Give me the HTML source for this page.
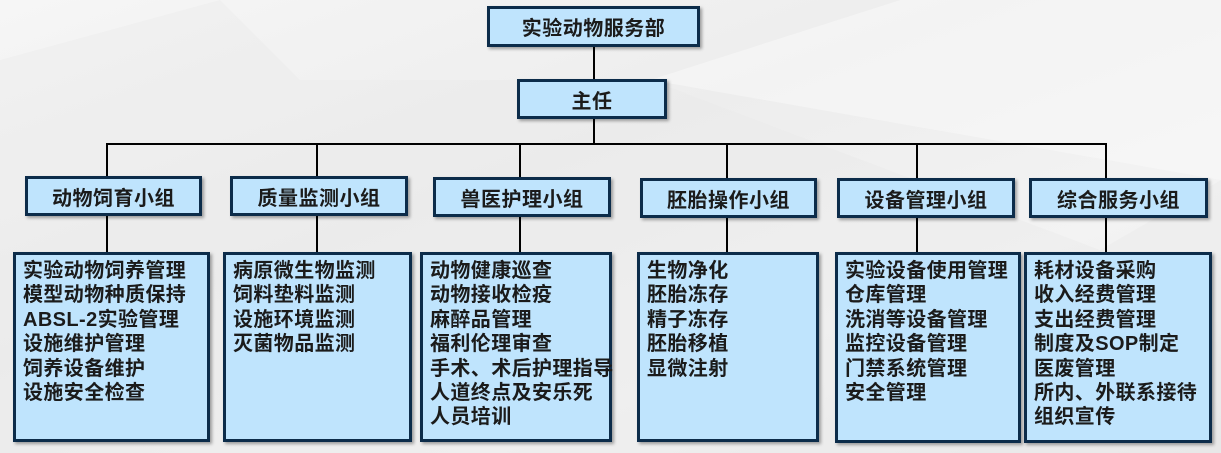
<!DOCTYPE html>
<html><head><meta charset="utf-8"><style>
body{margin:0;width:1221px;height:453px;overflow:hidden;position:relative;
background:linear-gradient(160deg,#f6f6f6 0%,#ededed 40%,#f3f3f3 70%,#e9e9e9 100%);
font-family:"Liberation Sans","Noto Sans CJK SC",sans-serif;font-weight:bold;color:#1b1b1b}
.b{position:absolute;box-sizing:border-box;background:#bfe4fd;border:3px solid #0c2c4a;box-shadow:2px 2px 3px rgba(0,0,0,.35)}
.h{display:flex;align-items:center;justify-content:center;font-size:20px;letter-spacing:0.5px}
.l{padding:4px 0 0 7px;font-size:20px;letter-spacing:0.4px;line-height:24.4px;white-space:nowrap}
.v{position:absolute;width:2px;background:#000}
</style></head><body>
<svg style="position:absolute;left:0;top:0" width="1221" height="453">
<polygon points="0,60 220,0 300,80 650,80 1100,250 1221,180 1221,453 0,453" fill="#e8e8e8" opacity=".35"/>
<polygon points="650,80 1221,180 1221,0 900,0" fill="#fafafa" opacity=".5"/>
</svg>
<div class="v" style="left:593px;top:46px;height:35px"></div>
<div class="v" style="left:593px;top:117px;height:28px"></div>
<div style="position:absolute;left:106px;top:143px;width:1001px;height:2px;background:#000"></div>
<div class="v" style="left:106px;top:143px;height:110px"></div>
<div class="v" style="left:316px;top:143px;height:110px"></div>
<div class="v" style="left:519px;top:143px;height:110px"></div>
<div class="v" style="left:726px;top:143px;height:110px"></div>
<div class="v" style="left:916px;top:143px;height:110px"></div>
<div class="v" style="left:1105px;top:143px;height:110px"></div>

<div class="b h" style="left:487px;top:6px;width:213px;height:41px">实验动物服务部</div>
<div class="b h" style="left:517px;top:79px;width:150px;height:40px">主任</div>

<div class="b h" style="left:25px;top:176px;width:177px;height:40px">动物饲育小组</div>
<div class="b h" style="left:230px;top:176px;width:178px;height:40px">质量监测小组</div>
<div class="b h" style="left:433px;top:177px;width:178px;height:40px">兽医护理小组</div>
<div class="b h" style="left:640px;top:178px;width:177px;height:40px">胚胎操作小组</div>
<div class="b h" style="left:837px;top:178px;width:178px;height:40px">设备管理小组</div>
<div class="b h" style="left:1029px;top:178px;width:179px;height:40px">综合服务小组</div>

<div class="b l" style="left:13px;top:252px;width:197px;height:190px">实验动物饲养管理<br>模型动物种质保持<br>ABSL-2实验管理<br>设施维护管理<br>饲养设备维护<br>设施安全检查</div>
<div class="b l" style="left:223px;top:252px;width:189px;height:190px">病原微生物监测<br>饲料垫料监测<br>设施环境监测<br>灭菌物品监测</div>
<div class="b l" style="left:420px;top:252px;width:192px;height:190px">动物健康巡查<br>动物接收检疫<br>麻醉品管理<br>福利伦理审查<br>手术、术后护理指导<br>人道终点及安乐死<br>人员培训</div>
<div class="b l" style="left:637px;top:252px;width:182px;height:190px">生物净化<br>胚胎冻存<br>精子冻存<br>胚胎移植<br>显微注射</div>
<div class="b l" style="left:835px;top:252px;width:186px;height:191px">实验设备使用管理<br>仓库管理<br>洗消等设备管理<br>监控设备管理<br>门禁系统管理<br>安全管理</div>
<div class="b l" style="left:1024px;top:252px;width:188px;height:191px">耗材设备采购<br>收入经费管理<br>支出经费管理<br>制度及SOP制定<br>医废管理<br>所内、外联系接待<br>组织宣传</div>
</body></html>
